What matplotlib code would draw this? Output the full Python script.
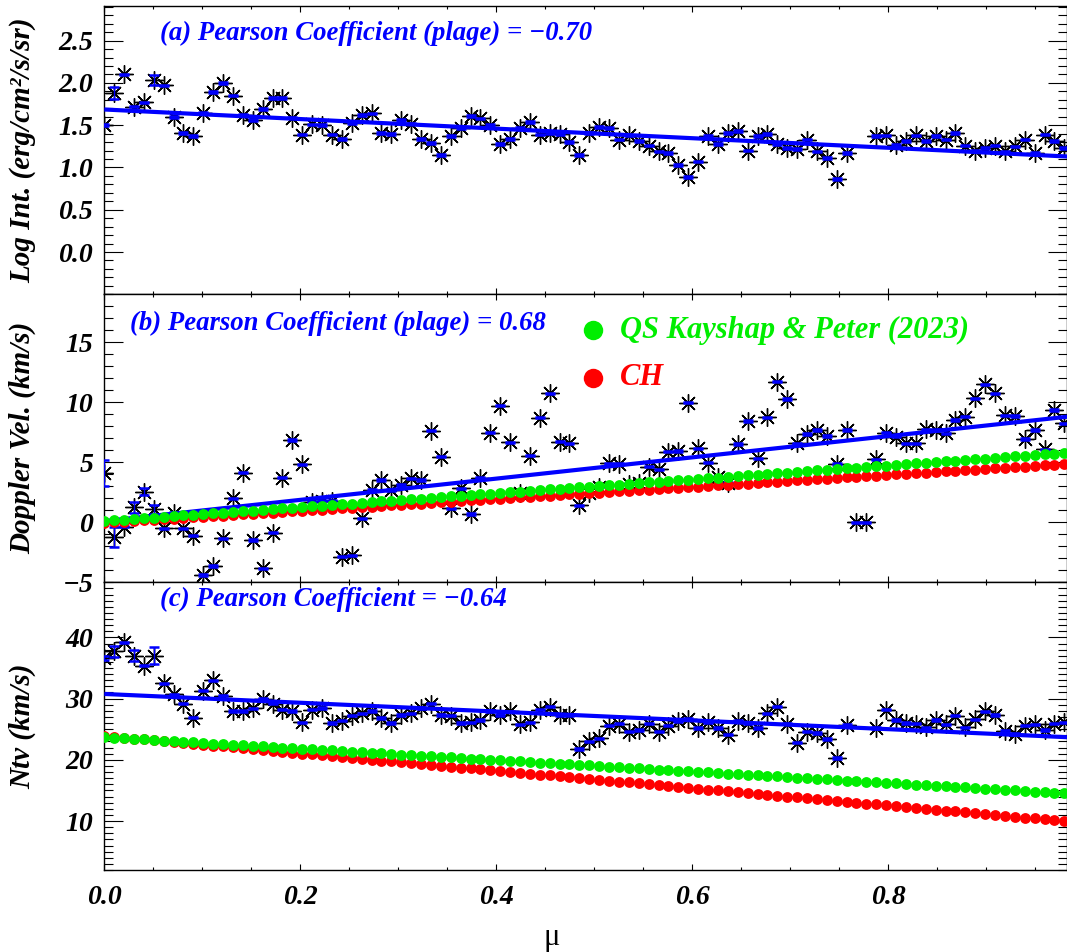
import numpy as np
import matplotlib
matplotlib.use("Agg")
import matplotlib.pyplot as plt
from matplotlib.ticker import MultipleLocator

W_PX, H_PX, DPI = 1067, 952, 100

# cosine of heliocentric angle, one bin per 1/99
MU = np.arange(98) / 99.0

LOG_INT = [
    1.50, 1.88, 2.10, 1.72, 1.77, 2.03, 1.97, 1.60, 1.41, 1.37,
    1.65, 1.89, 2.00, 1.85, 1.62, 1.56, 1.69, 1.82, 1.82, 1.59,
    1.39, 1.51, 1.50, 1.39, 1.34, 1.53, 1.62, 1.64, 1.41, 1.40,
    1.56, 1.52, 1.34, 1.29, 1.15, 1.37, 1.47, 1.61, 1.58, 1.50,
    1.28, 1.34, 1.47, 1.54, 1.39, 1.41, 1.40, 1.30, 1.15, 1.41,
    1.48, 1.47, 1.33, 1.38, 1.31, 1.26, 1.19, 1.17, 1.03, 0.89,
    1.07, 1.37, 1.28, 1.41, 1.43, 1.20, 1.37, 1.40, 1.28, 1.23,
    1.22, 1.33, 1.19, 1.11, 0.86, 1.17, np.nan, np.nan, 1.37, 1.38,
    1.27, 1.31, 1.38, 1.31, 1.37, 1.33, 1.41, 1.26, 1.20, 1.23,
    1.26, 1.19, 1.25, 1.33, 1.17, 1.39, 1.31, 1.23,
]

DOPPLER = [
    4.08, -1.19, -0.36, 1.25, 2.56, 1.08, -0.50, 0.81, -0.50, -1.11,
    -4.39, -3.64, -1.33, 2.00, 4.14, -1.47, -3.83, -0.86, 3.72, 6.86,
    4.83, 1.70, 1.80, 1.80, -2.86, -2.75, 0.33, 2.69, 3.53, 2.69,
    3.11, 3.67, 3.53, 7.64, 5.47, 1.17, 2.83, 0.69, 3.72, 7.47,
    9.72, 6.67, 2.45, 5.56, 8.72, 10.75, 6.72, 6.58, 1.40, 2.42,
    2.95, 4.92, 4.86, 3.20, 3.30, 4.64, 4.42, 5.89, 5.94, 9.97,
    6.17, 4.97, 3.80, 3.30, 6.53, 8.44, 5.33, 8.75, 11.72, 10.28,
    6.58, 7.36, 7.69, 7.19, 4.86, 7.69, 0.00, 0.00, 5.25, 7.47,
    7.14, 6.58, 6.58, 7.75, 7.69, 7.42, 8.53, 8.81, 10.33, 11.50,
    10.75, 8.92, 8.86, 6.94, 7.69, 6.08, 9.36, 8.25,
]

NTV = [
    36.6, 37.7, 39.2, 37.0, 35.4, 37.0, 32.5, 30.7, 29.2, 26.9,
    31.3, 33.0, 30.5, 28.0, 28.0, 28.4, 30.0, 29.2, 28.2, 28.0,
    26.1, 28.2, 28.5, 26.0, 26.4, 27.2, 27.6, 28.0, 26.8, 26.0,
    27.3, 27.6, 28.5, 29.2, 27.3, 27.2, 26.0, 26.1, 26.5, 28.0,
    27.3, 27.9, 25.8, 26.1, 28.2, 28.7, 27.3, 27.3, 21.8, 23.0,
    23.5, 25.6, 25.9, 24.6, 24.9, 25.9, 24.6, 25.6, 26.3, 26.7,
    25.2, 26.1, 25.2, 24.1, 26.4, 26.0, 25.2, 27.6, 28.7, 25.9,
    22.8, 24.6, 24.4, 23.4, 20.3, 25.7, np.nan, np.nan, 25.2, 28.2,
    26.5, 26.0, 25.9, 25.3, 26.5, 25.8, 27.2, 25.3, 26.6, 27.9,
    27.3, 24.7, 24.2, 25.6, 25.8, 24.9, 25.9, 26.1,
]

# 1-sigma errors: a common small value plus the few bins with wider bars
ERR_BASE = {"int": 0.01, "dop": 0.05, "ntv": 0.12}
ERR_WIDE = {
    "int": {1: 0.07, 5: 0.06},
    "dop": {0: 1.08, 1: 0.83, 3: 0.45, 4: 0.30, 5: 0.35},
    "ntv": {0: 0.30, 1: 0.95, 3: 0.87, 5: 1.36},
}

# linear fits to the plage points (intercept, slope)
FIT_INT = (1.686, -0.566)
FIT_DOP = (0.10, 8.85)
FIT_NTV = (30.76, -7.19)

# quiet-Sun and coronal-hole relations (intercept, slope)
QS_DOP = (0.10, 5.80)
CH_DOP = (-0.05, 5.00)
QS_NTV = (23.70, -9.35)
CH_NTV = (23.90, -14.20)

PEARSON = ["(a) Pearson Coefficient (plage) = \u22120.70",
           "(b) Pearson Coefficient (plage) = 0.68",
           "(c) Pearson Coefficient = \u22120.64"]

BLUE = "#0000ff"
GREEN = "#00ee00"
RED = "#ff0000"
SERIF_BI = dict(family="Liberation Serif", weight="bold", style="italic")


def errors(key):
    err = np.full(len(MU), ERR_BASE[key])
    for i, e in ERR_WIDE[key].items():
        err[i] = e
    return err


def axes_rect(top_px, bottom_px):
    left = 104.3 / W_PX
    width = (1066.5 - 104.3) / W_PX
    bottom = 1 - bottom_px / H_PX
    return [left, bottom, width, (bottom_px - top_px) / H_PX]


def style_axes(ax, ylim, yticks, yminor, show_x):
    ax.set_xlim(0, 0.982)
    ax.set_ylim(*ylim)
    ax.set_yticks(yticks)
    ax.yaxis.set_minor_locator(MultipleLocator(yminor))
    ax.xaxis.set_major_locator(MultipleLocator(0.2))
    ax.xaxis.set_minor_locator(MultipleLocator(0.05))
    ax.tick_params(which="both", direction="in", top=True, right=True,
                   width=0.8, color="black")
    ax.tick_params(axis="y", which="major", length=13.5, pad=8)
    ax.tick_params(axis="y", which="minor", length=6.5)
    ax.tick_params(axis="x", which="major", length=4, pad=11)
    ax.tick_params(axis="x", which="minor", length=2.2)
    for sp in ax.spines.values():
        sp.set_linewidth(1.0)
    if show_x:
        ax.set_xticks([0.0, 0.2, 0.4, 0.6, 0.8])
        ax.set_xticklabels(["0.0", "0.2", "0.4", "0.6", "0.8"], **SERIF_BI, size=20)
    else:
        ax.tick_params(axis="x", labelbottom=False)


def plot_points(ax, values, key):
    vals = np.array(values, dtype=float)
    ax.plot(MU, vals, linestyle="none", marker=(8, 2, 0), markersize=13,
            markeredgewidth=1.0, color="black", zorder=3)
    ax.errorbar(MU, vals, yerr=errors(key), fmt="none", ecolor=BLUE,
                elinewidth=1.0, capsize=3.8, capthick=1.8, zorder=4)


def plot_fit(ax, coef):
    xs = np.array([0.0, 0.99])
    ax.plot(xs, coef[0] + coef[1] * xs, color=BLUE, lw=3.0, zorder=5,
            solid_capstyle="butt")


def plot_relation(ax, coef, color, z):
    ax.plot(MU, coef[0] + coef[1] * MU, linestyle="none", marker="o",
            markersize=7.8, markeredgewidth=0, color=color, zorder=z)


def set_ylabel(ax, text):
    ax.set_ylabel(text, **SERIF_BI, size=21)
    ax.yaxis.set_label_coords(-0.071, 0.5)


fig = plt.figure(figsize=(W_PX / DPI, H_PX / DPI), dpi=DPI)
fig.patch.set_facecolor("white")

# (a) intensity
ax_a = fig.add_axes(axes_rect(6.0, 294.3))
plot_points(ax_a, LOG_INT, "int")
plot_fit(ax_a, FIT_INT)
style_axes(ax_a, (-0.5, 2.91), [0.0, 0.5, 1.0, 1.5, 2.0, 2.5], 0.1, False)
ax_a.set_yticklabels(["0.0", "0.5", "1.0", "1.5", "2.0", "2.5"], **SERIF_BI, size=20)
set_ylabel(ax_a, "Log Int. (erg/cm\u00b2/s/sr)")
ax_a.text(0.058, 0.906, PEARSON[0], transform=ax_a.transAxes, color=BLUE,
          ha="left", va="center", **SERIF_BI, size=19.3)

# (b) Doppler velocity
ax_b = fig.add_axes(axes_rect(294.3, 582.3))
plot_points(ax_b, DOPPLER, "dop")
plot_fit(ax_b, FIT_DOP)
plot_relation(ax_b, CH_DOP, RED, 6)
plot_relation(ax_b, QS_DOP, GREEN, 7)
style_axes(ax_b, (-5.0, 19.0), [-5, 0, 5, 10, 15], 1, False)
ax_b.set_yticklabels(["\u22125", "0", "5", "10", "15"], **SERIF_BI, size=20)
set_ylabel(ax_b, "Doppler Vel. (km/s)")
ax_b.text(0.027, 0.90, PEARSON[1], transform=ax_b.transAxes, color=BLUE,
          ha="left", va="center", **SERIF_BI, size=19.3)

# legend for the reference relations
for ypos, color, label in [(0.876, GREEN, "QS Kayshap & Peter (2023)"),
                           (0.71, RED, "CH")]:
    ax_b.plot([0.508], [ypos], marker="o", markersize=14, markeredgewidth=0,
              color=color, transform=ax_b.transAxes, clip_on=False, zorder=8)
    ax_b.text(0.536, ypos, label, transform=ax_b.transAxes, color=color,
              ha="left", va="center", **SERIF_BI, size=22)

# (c) non-thermal velocity
ax_c = fig.add_axes(axes_rect(582.3, 870.0))
plot_points(ax_c, NTV, "ntv")
plot_fit(ax_c, FIT_NTV)
plot_relation(ax_c, CH_NTV, RED, 6)
plot_relation(ax_c, QS_NTV, GREEN, 7)
style_axes(ax_c, (2.0, 49.0), [10, 20, 30, 40], 1, True)
ax_c.set_yticklabels(["10", "20", "30", "40"], **SERIF_BI, size=20)
set_ylabel(ax_c, "Ntv (km/s)")
ax_c.text(0.058, 0.942, PEARSON[2], transform=ax_c.transAxes, color=BLUE,
          ha="left", va="center", **SERIF_BI, size=19.3)

fig.text(552 / W_PX, 1 - 937 / H_PX, "\u03bc", ha="center", va="center",
         family="Liberation Serif", size=22)

fig.savefig("out.png", dpi=DPI)
plt.close(fig)
